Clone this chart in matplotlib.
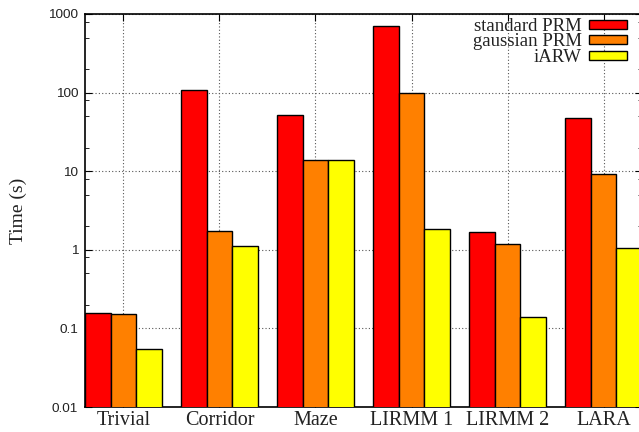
import numpy as np
import matplotlib
matplotlib.use("Agg")
from matplotlib import pyplot as plt
from matplotlib.ticker import LogLocator, FixedLocator, FuncFormatter, NullFormatter

# data (seconds, log scale)
scenes = ["Trivial", "Corridor", "Maze", "LIRMM 1", "LIRMM 2", "LARA"]
standard_prm = [0.156, 107, 52, 710, 1.68, 47]
gaussian_prm = [0.151, 1.75, 13.8, 99, 1.18, 9.15]
iarw = [0.055, 1.12, 13.8, 1.85, 0.141, 1.06]

series_names = ["standard PRM", "gaussian PRM", "iARW"]
series_colors = ["#ff0000", "#ff8000", "#ffff00"]
y_ticks = [0.01, 0.1, 1, 10, 100, 1000]

serif = ["Liberation Serif", "DejaVu Serif"]
sans = ["Liberation Sans", "DejaVu Sans"]

fig = plt.figure(figsize=(6.39, 4.32), dpi=100)
ax = fig.add_axes([85 / 639, 25 / 432, 557 / 639, 393 / 432])

x = np.arange(len(scenes))
w = 0.8 / 3
for i, (vals, name, col) in enumerate(zip([standard_prm, gaussian_prm, iarw], series_names, series_colors)):
    ax.bar(x - w + i * w, vals, width=w, color=col, edgecolor="black",
           linewidth=1.0, label=name, zorder=3)

ax.set_yscale("log")
ax.set_ylim(0.01, 1000)
ax.set_xlim(-0.4, 5.4)
ax.yaxis.set_major_locator(FixedLocator(y_ticks))
ax.yaxis.set_major_formatter(FuncFormatter(lambda v, p: "%g" % v))
ax.yaxis.set_minor_locator(LogLocator(base=10, subs=[2, 5, 8]))
ax.yaxis.set_minor_formatter(NullFormatter())
ax.set_xticks(x)
ax.set_xticklabels(scenes, fontfamily=serif, fontsize=14.5, color="#222222")
for lab in ax.get_yticklabels():
    lab.set_fontfamily(sans)
    lab.set_fontsize(9.7)
    lab.set_color("#222222")

ax.tick_params(axis="both", which="both", direction="in", top=True, right=True)
ax.tick_params(axis="y", which="major", length=5, pad=5)
ax.tick_params(axis="y", which="minor", length=3)
ax.tick_params(axis="x", which="major", length=5, pad=3)

ax.grid(True, which="major", color="#555555", linestyle=(0, (1, 2)), linewidth=0.8, zorder=0)
ax.set_axisbelow(True)
for s in ax.spines.values():
    s.set_linewidth(1.2)

ax.set_ylabel("Time (s)", fontfamily=serif, fontsize=14, labelpad=15, color="#222222")

# key in the top right corner, text right aligned before the colour box
leg = ax.legend(loc="upper right", bbox_to_anchor=(627 / 639, 1 - 18 / 432),
                bbox_transform=fig.transFigure,
                markerfirst=False, frameon=False, prop={"family": serif, "size": 13.5},
                labelspacing=-0.08, handlelength=2.03, handleheight=0.36,
                handletextpad=0.37, borderaxespad=0, borderpad=0)
for t in leg.get_texts():
    t.set_color("#222222")

fig.savefig("out.png", dpi=100)
